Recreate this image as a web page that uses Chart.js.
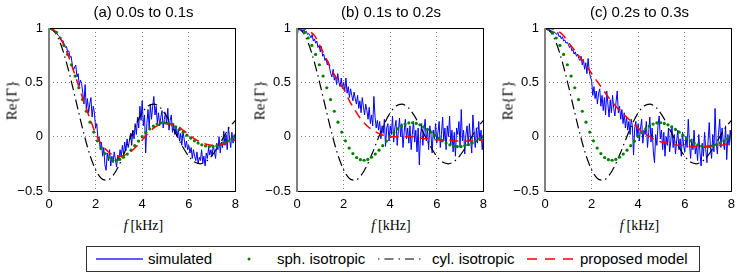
<!DOCTYPE html>
<html>
<head>
<meta charset="utf-8">
<script src="https://cdn.jsdelivr.net/npm/chart.js@4.4.1/dist/chart.umd.min.js"></script>
<style>
  body { margin: 0; background: #fff; width: 747px; height: 273px; position: relative; overflow: hidden;
         font-family: "Liberation Sans", Arial, sans-serif; color: #000; }
  canvas { position: absolute; top: 0; }
  .ttl { position: absolute; top: 4px; width: 200px; font-size: 15px; line-height: 15px; text-align: center; white-space: nowrap; }
  .xl { position: absolute; top: 218px; width: 100px; font-family: "Liberation Serif", serif; font-size: 14px; line-height: 16px; text-align: center; }
  .yl { position: absolute; width: 60px; font-family: "Liberation Serif", serif; font-size: 15px; line-height: 15px; text-align: center;
        transform: rotate(-90deg); transform-origin: center center; }
  #legend { position: absolute; left: 86px; top: 246px; width: 612px; height: 24px; border: 1px solid #333; }
  .lt { position: absolute; top: 250px; font-size: 15px; line-height: 18px; white-space: nowrap; }
  #lsvg { position: absolute; left: 0; top: 246px; }
</style>
</head>
<body>
<canvas id="pa" width="245" height="215"></canvas>
<canvas id="pb" width="245" height="215"></canvas>
<canvas id="pc" width="245" height="215"></canvas>

<div id="legend"></div>
<svg id="lsvg" width="747" height="27">
  <line x1="96" y1="13" x2="143" y2="13" stroke="rgb(40,40,255)" stroke-width="1.3"/>
  <circle cx="249" cy="13" r="1.5" fill="#008000"/>
  <line x1="378" y1="13" x2="424" y2="13" stroke="#000" stroke-width="1.2" stroke-dasharray="1.5,5,9,5"/>
  <line x1="527" y1="13" x2="573" y2="13" stroke="#ff0000" stroke-width="1.5" stroke-dasharray="10,8"/>
</svg>
<div class="lt" style="left:148px">simulated</div>
<div class="lt" style="left:277px">sph. isotropic</div>
<div class="lt" style="left:432px">cyl. isotropic</div>
<div class="lt" style="left:580px">proposed model</div>

<script>
// --- data ---
const panelTitles = ['(a) 0.0s to 0.1s', '(b) 0.1s to 0.2s', '(c) 0.2s to 0.3s'];
const seriesNames = ['simulated', 'sph. isotropic', 'cyl. isotropic', 'proposed model'];
const xTicks = [0, 2, 4, 6, 8];
const xTickLabels = ['0', '2', '4', '6', '8'];
const yTicks = [-0.5, 0, 0.5, 1];
const yTickLabels = ['\u22120.5', '0', '0.5', '1'];

// frequency spacing (kHz) of each series
const simStep = 0.05;
const sphStep = 0.16;
const curveStep = 0.25;

// simulated, one per time window (0 .. 8 kHz)
const simA = [
  1.00, 0.998, 0.99, 0.985, 0.97, 0.975, 0.955, 0.945, 0.93, 0.92,
  0.90, 0.88, 0.885, 0.85, 0.82, 0.83, 0.78, 0.79, 0.73, 0.74,
  0.66, 0.61, 0.64, 0.66, 0.55, 0.58, 0.47, 0.52, 0.49, 0.40,
  0.30, 0.48, 0.26, 0.35, 0.22, 0.30, 0.36, 0.18, 0.28, 0.22,
  0.08, 0.12, -0.02, 0.00, -0.12, -0.05, -0.18, -0.10, -0.26, -0.31,
  -0.15, -0.22, -0.12, -0.27, -0.18, -0.24, -0.14, -0.21, -0.28, -0.17,
  -0.22, -0.12, -0.19, -0.08, -0.16, -0.05, -0.13, -0.02, -0.10, -0.04,
  0.03, -0.08, 0.06, -0.02, 0.12, 0.02, 0.18, 0.08, 0.28, 0.15,
  0.33, 0.10, 0.20, -0.15, 0.12, 0.25, 0.08, 0.30, 0.16, 0.28,
  0.37, 0.20, 0.28, 0.12, 0.22, 0.10, 0.18, 0.24, 0.08, 0.16,
  0.22, 0.12, 0.26, 0.06, 0.15, 0.20, 0.04, 0.12, 0.02, 0.08,
  0.00, 0.07, -0.04, 0.03, -0.08, 0.05, -0.02, -0.10, -0.04, -0.12,
  -0.08, -0.15, -0.10, -0.20, -0.12, -0.18, -0.22, -0.14, -0.25, -0.19,
  -0.22, -0.12, -0.24, -0.18, -0.27, -0.15, -0.20, -0.10, -0.17, -0.12,
  -0.18, -0.08, -0.14, -0.20, -0.06, -0.12, 0.00, -0.15, -0.05, -0.10,
  0.05, -0.08, 0.02, -0.12, 0.09, -0.02, -0.10, 0.04, -0.06, 0.02,
  -0.04
];
const simB = [
  0.90, 0.99, 1.00, 0.98, 0.99, 0.97, 0.985, 0.96, 0.97, 0.94,
  0.95, 0.93, 0.91, 0.94, 0.88, 0.90, 0.86, 0.88, 0.82, 0.84,
  0.78, 0.83, 0.74, 0.76, 0.70, 0.72, 0.66, 0.69, 0.63, 0.58,
  0.55, 0.62, 0.52, 0.56, 0.48, 0.58, 0.50, 0.46, 0.54, 0.44,
  0.50, 0.42, 0.54, 0.40, 0.46, 0.36, 0.44, 0.38, 0.33, 0.41,
  0.35, 0.30, 0.38, 0.26, 0.33, 0.22, 0.36, 0.28, 0.20, 0.30,
  0.24, 0.16, 0.27, 0.12, 0.20, 0.10, 0.37, 0.18, 0.08, 0.15,
  0.06, 0.14, -0.02, 0.10, 0.03, 0.16, -0.09, 0.08, 0.12, -0.04,
  0.10, 0.02, 0.19, -0.05, 0.08, 0.15, -0.08, 0.05, 0.17, 0.00,
  0.12, -0.10, 0.04, 0.16, -0.02, 0.08, -0.06, 0.10, -0.12, 0.02,
  0.14, -0.05, 0.06, -0.14, 0.08, -0.26, 0.00, 0.12, -0.08, 0.05,
  0.16, -0.04, 0.07, -0.12, 0.10, 0.02, -0.15, 0.06, -0.02, 0.12,
  -0.06, 0.04, 0.14, -0.10, 0.02, 0.18, -0.04, 0.08, -0.12, 0.10,
  0.00, 0.19, -0.08, 0.06, -0.14, 0.04, -0.18, 0.08, 0.02, 0.14,
  -0.10, 0.25, -0.04, 0.06, -0.16, 0.02, 0.10, -0.08, 0.12, -0.02,
  -0.15, 0.20, 0.04, -0.10, 0.08, -0.06, 0.14, -0.04, 0.06, -0.12,
  0.02
];
const simC = [
  1.00, 0.99, 0.985, 0.995, 0.97, 0.98, 0.96, 0.94, 0.965, 0.95,
  0.94, 0.96, 0.92, 0.93, 0.90, 0.92, 0.88, 0.89, 0.86, 0.87,
  0.85, 0.82, 0.84, 0.79, 0.80, 0.76, 0.78, 0.74, 0.76, 0.72,
  0.70, 0.74, 0.66, 0.71, 0.62, 0.68, 0.58, 0.72, 0.60, 0.55,
  0.52, 0.38, 0.46, 0.35, 0.42, 0.30, 0.40, 0.44, 0.28, 0.38,
  0.24, 0.36, 0.20, 0.42, 0.30, 0.18, 0.34, 0.22, 0.38, 0.26,
  0.19, 0.32, 0.42, 0.22, 0.28, 0.16, 0.25, 0.12, 0.22, 0.08,
  0.18, 0.06, 0.14, 0.02, 0.16, 0.10, -0.17, 0.08, 0.14, 0.00,
  0.12, -0.04, 0.08, 0.16, -0.06, 0.06, 0.02, 0.14, -0.10, 0.04,
  0.18, -0.05, 0.08, -0.14, -0.24, 0.02, -0.08, 0.10, 0.19, -0.02,
  0.06, -0.12, 0.04, -0.18, 0.00, -0.08, 0.08, -0.14, -0.04, 0.10,
  -0.10, 0.02, -0.16, -0.04, 0.06, -0.12, -0.02, -0.18, 0.04, -0.08,
  -0.14, 0.00, -0.10, 0.16, -0.06, -0.20, -0.02, -0.12, 0.06, -0.16,
  -0.08, -0.22, 0.02, -0.14, -0.27, -0.06, -0.18, 0.04, -0.12, -0.24,
  -0.04, 0.13, -0.10, -0.20, 0.02, -0.14, 0.26, -0.06, -0.16, 0.04,
  0.16, -0.10, 0.08, -0.04, -0.12, 0.10, -0.21, 0.02, -0.08, 0.06,
  -0.06
];

// spherically isotropic reference (same in all panels)
const sphIso = [
  1.0, 0.990, 0.959, 0.908, 0.840, 0.757, 0.662, 0.558, 0.450, 0.341,
  0.234, 0.133, 0.042, -0.038, -0.105, -0.156, -0.192, -0.212, -0.217, -0.209,
  -0.189, -0.160, -0.124, -0.083, -0.041, 0.0, 0.038, 0.071, 0.097, 0.116,
  0.126, 0.128, 0.122, 0.109, 0.090, 0.067, 0.041, 0.014, -0.013, -0.038,
  -0.059, -0.075, -0.086, -0.091, -0.090, -0.084, -0.073, -0.058, -0.040, -0.020,
  0.0
];
// cylindrically isotropic reference (same in all panels)
const cylIso = [
  1.0, 0.962, 0.852, 0.682, 0.472, 0.245, 0.025, -0.165, -0.304, -0.385,
  -0.401, -0.357, -0.265, -0.143, -0.007, 0.119, 0.220, 0.283, 0.300, 0.272,
  0.205, 0.111, 0.004, -0.098, -0.181, -0.234, -0.250, -0.227, -0.172, -0.093,
  -0.002, 0.086, 0.150
];
// proposed model, one per time window
const propA = [
  1.00, 0.975, 0.90, 0.79, 0.64, 0.48, 0.32, 0.17, 0.03, -0.07,
  -0.13, -0.17, -0.18, -0.17, -0.14, -0.09, -0.03, 0.03, 0.08, 0.11,
  0.12, 0.12, 0.10, 0.06, 0.02, -0.02, -0.05, -0.07, -0.08, -0.08,
  -0.07, -0.05, -0.03
];
const propB = [
  1.00, 0.995, 0.975, 0.93, 0.83, 0.72, 0.61, 0.52, 0.44, 0.33,
  0.24, 0.16, 0.10, 0.06, 0.03, 0.01, 0.00, 0.00, 0.00, 0.00,
  0.00, -0.01, -0.02, -0.02, -0.03, -0.03, -0.03, -0.04, -0.04, -0.04,
  -0.04, -0.03, -0.03
];
const propC = [
  1.00, 0.995, 0.98, 0.94, 0.87, 0.80, 0.73, 0.665, 0.58, 0.505,
  0.43, 0.355, 0.29, 0.23, 0.18, 0.13, 0.08, 0.03, 0.00, -0.03,
  -0.05, -0.06, -0.07, -0.08, -0.08, -0.09, -0.09, -0.09, -0.09, -0.08,
  -0.08, -0.07, -0.06
];

// --- layout ---
const canvasLeft = [0, 248, 496];
const rightPad = [7, 8, 7];
const simData = [simA, simB, simC];
const propData = [propA, propB, propC];

function toPoints(values, step) {
  return values.map((v, i) => ({ x: +(i * step).toFixed(3), y: v }));
}

const framePlugin = {
  id: 'frame',
  afterDraw(chart) {
    const { ctx, chartArea: a } = chart;
    const l = Math.round(a.left), r = Math.round(a.right), t = Math.round(a.top), b = Math.round(a.bottom);
    ctx.save();
    ctx.strokeStyle = '#000';
    ctx.lineWidth = 1;
    ctx.strokeRect(l + 0.5, t + 0.5, r - l, b - t);
    ctx.strokeStyle = '#808080';
    ctx.lineWidth = 2;
    ctx.beginPath();
    ctx.moveTo(l, t);
    ctx.lineTo(l, b + 1);
    ctx.stroke();
    ctx.restore();
  }
};

const tickFont = { family: '"Liberation Sans", Arial, sans-serif', size: 13 };

['pa', 'pb', 'pc'].forEach((id, p) => {
  const canvas = document.getElementById(id);
  canvas.style.left = canvasLeft[p] + 'px';

  const plotLeft = canvasLeft[p] + 49;
  const plotW = 245 - 49 - rightPad[p];

  const t = document.createElement('div');
  t.className = 'ttl';
  t.textContent = panelTitles[p];
  t.style.left = (plotLeft + plotW / 2 - 100) + 'px';
  document.body.appendChild(t);

  const xl = document.createElement('div');
  xl.className = 'xl';
  xl.innerHTML = '<i>f</i>\u2009[kHz]';
  xl.style.left = (plotLeft + plotW / 2 - 50) + 'px';
  document.body.appendChild(xl);

  const yl = document.createElement('div');
  yl.className = 'yl';
  yl.textContent = 'Re{\u0393}';
  yl.style.left = (canvasLeft[p] + 12 - 30) + 'px';
  yl.style.top = (100 - 7) + 'px';
  document.body.appendChild(yl);

  new Chart(canvas, {
    type: 'line',
    data: {
      datasets: [
        { label: seriesNames[3], data: toPoints(propData[p], curveStep), borderColor: '#ff0000', borderWidth: 1.5,
          borderDash: [9, 6], pointRadius: 0, cubicInterpolationMode: 'monotone', order: 0 },
        { label: seriesNames[1], data: toPoints(sphIso, sphStep), showLine: false, pointRadius: 1.6,
          pointBackgroundColor: '#008000', pointBorderWidth: 0, order: 1 },
        { label: seriesNames[2], data: toPoints(cylIso, curveStep), borderColor: '#000', borderWidth: 1.2,
          borderDash: [10, 4, 1.5, 4], pointRadius: 0, cubicInterpolationMode: 'monotone', order: 2 },
        { label: seriesNames[0], data: toPoints(simData[p], simStep), borderColor: '#0000ff', borderWidth: 1,
          pointRadius: 0, tension: 0, order: 3 }
      ]
    },
    options: {
      responsive: false,
      animation: false,
      devicePixelRatio: 1,
      layout: { padding: { top: 28, right: rightPad[p], bottom: 0, left: 0 } },
      plugins: { legend: { display: false }, tooltip: { enabled: false }, title: { display: false } },
      scales: {
        x: {
          type: 'linear', min: 0, max: 8,
          afterBuildTicks: s => { s.ticks = xTicks.map(v => ({ value: v })); },
          afterFit: s => { s.height = 24; },
          ticks: { font: tickFont, color: '#000', padding: 6, maxRotation: 0,
                   callback: v => xTickLabels[xTicks.indexOf(v)] },
          grid: { color: '#7a7a7a', lineWidth: 1, drawTicks: false },
          border: { display: false, dash: [1, 3] }
        },
        y: {
          type: 'linear', min: -0.5, max: 1,
          afterBuildTicks: s => { s.ticks = yTicks.map(v => ({ value: v })); },
          afterFit: s => { s.width = 49; },
          ticks: { font: tickFont, color: '#000', padding: 6,
                   callback: v => { const i = yTicks.indexOf(v); return i >= 0 ? yTickLabels[i] : ''; } },
          grid: { color: '#7a7a7a', lineWidth: 1, drawTicks: false },
          border: { display: false, dash: [1, 3] }
        }
      }
    },
    plugins: [framePlugin]
  });
});
</script>
</body>
</html>
